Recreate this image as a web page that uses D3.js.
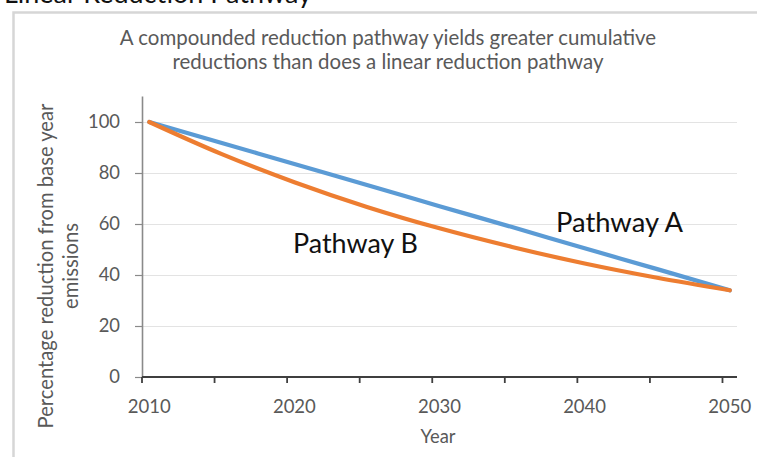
<!DOCTYPE html>
<html>
<head>
<meta charset="utf-8">
<script src="https://cdn.jsdelivr.net/npm/d3@7/dist/d3.min.js"></script>
<style>
  html, body { margin: 0; padding: 0; background: #fff; }
  svg { display: block; }
  text { font-family: Lato, "Open Sans", sans-serif; }
</style>
</head>
<body>
<svg id="chart" width="757" height="457"></svg>
<script>
// Emission pathways, % of base-year (2010) emissions, every 5 years
const years = [2010, 2015, 2020, 2025, 2030, 2035, 2040, 2045, 2050];
const pathwayA = [100, 91.8, 83.5, 75.3, 67.0, 58.8, 50.5, 42.3, 34.0]; // linear
const pathwayB = [100, 87.4, 76.4, 66.7, 58.3, 51.0, 44.5, 38.9, 34.0]; // compounded

const yTicks = [0, 20, 40, 60, 80, 100];
const xTickYears = [2010, 2015, 2020, 2025, 2030, 2035, 2040, 2045, 2050];
const xLabelYears = [2010, 2020, 2030, 2040, 2050];

const pageTitle = "Linear Reduction Pathway";
const chartTitle = [
  "A compounded reduction pathway yields greater cumulative",
  "reductions than does a linear reduction pathway"
];
const yTitle = ["Percentage reduction from base year", "emissions"];
const xTitle = "Year";
const seriesLabels = [
  { name: "Pathway A", color: "#5B9BD5", values: pathwayA },
  { name: "Pathway B", color: "#ED7D31", values: pathwayB }
];

const svg = d3.select("#chart");
const textGray = "#595959";

// scale a text element's font so its width hits a target; returns the size
function fitSize(node, target) {
  const fs = parseFloat(node.getAttribute("font-size"));
  const w = node.getComputedTextLength();
  const size = +(fs * target / w).toFixed(2);
  node.setAttribute("font-size", size);
  return size;
}

// heading above the chart frame (mostly clipped at the top)
const head = svg.append("text")
  .attr("x", 4).attr("y", 3)
  .attr("font-family", "'Open Sans', sans-serif")
  .attr("font-size", 24).attr("fill", "#111")
  .text(pageTitle);
fitSize(head.node(), 308);

// chart frame
svg.append("path")
  .attr("d", "M13.5,457 V12.5 H757")
  .attr("fill", "none").attr("stroke", "#d6d6d6").attr("stroke-width", 2.5);

// scales: years sit in the middle of category slots
const x = d3.scaleLinear().domain([2009.5, 2050.5]).range([142, 737]);
const y = d3.scaleLinear().domain([0, 110]).range([377, 96.5]);

// horizontal gridlines
svg.append("g").selectAll("line")
  .data(yTicks.filter(d => d > 0))
  .join("line")
  .attr("x1", 142).attr("x2", 737)
  .attr("y1", d => Math.round(y(d)) + 0.5).attr("y2", d => Math.round(y(d)) + 0.5)
  .attr("stroke", "#e3e3e3").attr("stroke-width", 1.2);

// y axis
const yAxis = svg.append("g")
  .attr("transform", "translate(142,0)")
  .call(d3.axisLeft(y).tickValues(yTicks).tickSize(7).tickPadding(15).tickFormat(d3.format("d")));
yAxis.select(".domain").attr("stroke", "#8a8a8a").attr("stroke-width", 1.6)
  .attr("d", `M0.5,${y(110)}V${y(0)}`);
yAxis.selectAll(".tick line").attr("stroke", "#8a8a8a").attr("stroke-width", 1.2);
const yLabels = yAxis.selectAll(".tick text")
  .attr("font-family", "Lato, sans-serif")
  .attr("font-size", 18).attr("fill", textGray);
const yLabelSize = fitSize(yLabels.filter(d => d === 100).node(), 32);
yLabels.attr("font-size", yLabelSize);

// x axis: ticks at slot boundaries, labels at slot centres
const xAxis = svg.append("g").attr("transform", `translate(0,${y(0)})`);
xAxis.append("line")
  .attr("x1", 142).attr("x2", 737).attr("y1", 0).attr("y2", 0)
  .attr("stroke", "#3f3f3f").attr("stroke-width", 2);
xAxis.selectAll("line.tk")
  .data(xTickYears)
  .join("line").attr("class", "tk")
  .attr("x1", d => x(d - 0.5)).attr("x2", d => x(d - 0.5))
  .attr("y1", 0).attr("y2", 6)
  .attr("stroke", "#3f3f3f").attr("stroke-width", 1.8);
const xLabels = xAxis.selectAll("text")
  .data(xLabelYears)
  .join("text")
  .attr("x", d => x(d)).attr("y", 35.5)
  .attr("text-anchor", "middle")
  .attr("font-size", 18).attr("fill", textGray)
  .text(d => d);
xLabels.attr("font-size", fitSize(xLabels.node(), 43));

// axis titles
const xt = svg.append("text")
  .attr("x", 438).attr("y", 443)
  .attr("text-anchor", "middle").attr("font-size", 18).attr("fill", textGray)
  .text(xTitle);
fitSize(xt.node(), 35);

const yt = svg.append("g").selectAll("text")
  .data(yTitle)
  .join("text")
  .attr("transform", (d, i) => `translate(${53 + i * 25},266) rotate(-90)`)
  .attr("text-anchor", "middle").attr("font-size", 18).attr("fill", textGray)
  .text(d => d);
yt.attr("font-size", fitSize(yt.node(), 325));

// chart title
const ct = svg.append("g");
const ctText = ct.selectAll("text")
  .data(chartTitle)
  .join("text")
  .attr("x", 388).attr("y", (d, i) => 45 + i * 24)
  .attr("text-anchor", "middle").attr("font-size", 18).attr("fill", textGray)
  .text(d => d);
ctText.attr("font-size", fitSize(ctText.node(), 537));

// pathway lines
const line = d3.line()
  .x((d, i) => x(years[i]))
  .y(d => y(d))
  .curve(d3.curveMonotoneX);

svg.append("g").selectAll("path")
  .data(seriesLabels)
  .join("path")
  .attr("d", s => line(s.values))
  .attr("fill", "none")
  .attr("stroke", s => s.color)
  .attr("stroke-width", 4.2)
  .attr("stroke-linecap", "round")
  .attr("stroke-linejoin", "round");

// in-plot labels
const labA = svg.append("text").attr("x", 556).attr("y", 232)
  .attr("font-family", "'Open Sans', sans-serif")
  .attr("font-size", 20).attr("fill", "#111").text(seriesLabels[0].name);
fitSize(labA.node(), 127);
const labB = svg.append("text").attr("x", 293).attr("y", 253)
  .attr("font-family", "'Open Sans', sans-serif")
  .attr("font-size", 20).attr("fill", "#111").text(seriesLabels[1].name);
fitSize(labB.node(), 125);
</script>
</body>
</html>
